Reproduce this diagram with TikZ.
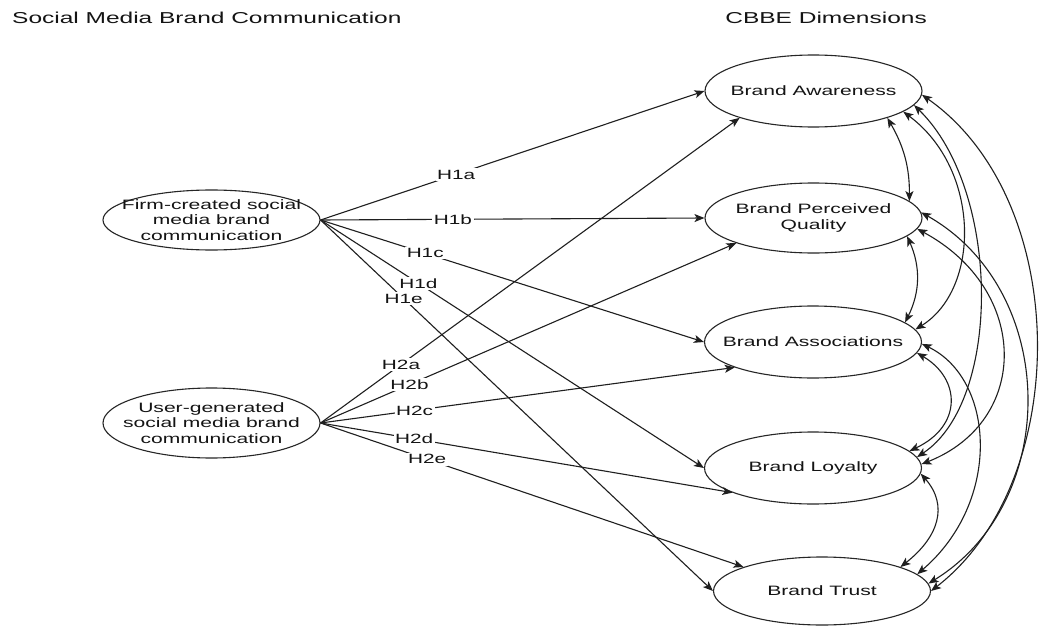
\documentclass[tikz,border=0pt]{standalone}
\usepackage{fontspec}
\setmainfont{Liberation Sans}[FakeStretch=1.55]
\usetikzlibrary{arrows.meta,shapes.geometric}
\begin{document}
\begin{tikzpicture}[x=1pt,y=-1pt,
  txt/.style={font=\fontsize{13.6}{15.5}\selectfont, text=black!92, align=center, inner sep=0pt},
  title/.style={font=\fontsize{15.8}{18}\selectfont, text=black!92, inner sep=0pt},
  oval/.style={ellipse, draw=black!85, line width=1.1pt, minimum width=217pt, minimum height=72pt, inner sep=0pt},
  lab/.style={fill=white, inner sep=1.5pt, font=\fontsize{13.4}{15}\selectfont, text=black!92},
  tip/.style={},
  conn/.style={line width=1.1pt, draw=black!88, -{Stealth[length=10pt,width=8pt,inset=2.5pt]}},
  corr/.style={line width=1.1pt, draw=black!88, {Stealth[length=10pt,width=8pt,inset=2.5pt]}-{Stealth[length=10pt,width=8pt,inset=2.5pt]}}
]
\useasboundingbox[fill=white] (0,0) rectangle (1047,626);

% titles
\node[title, anchor=base west] (t1) at (12,24) {Social Media Brand Communication};
\node[title, anchor=base east] (t2) at (927,24) {CBBE Dimensions};

% left ellipses
\node[oval, minimum height=60pt] (f) at (211.5,220) {};
\node[txt] (ft) at (f.center) {Firm-created social\\media brand\\communication};
\node[oval, minimum height=70pt] (u) at (211.5,423) {};
\node[txt] (ut) at (u.center) {User-generated\\social media brand\\communication};

% right ellipses
\node[oval] (ba) at (813.5,91) {};
\node[txt] (bat) at (ba.center) {Brand Awareness};
\node[oval, minimum height=70pt] (pq) at (813.5,218) {};
\node[txt] (pqt) at (pq.center) {Brand Perceived\\Quality};
\node[oval] (as) at (813,342) {};
\node[txt] (ast) at (as.center) {Brand Associations};
\node[oval] (bl) at (813,468) {};
\node[txt] (blt) at (bl.center) {Brand Loyalty};
\node[oval, minimum height=68pt] (bt) at (822,591) {};
\node[txt] (btt) at (bt.center) {Brand Trust};

% H1 paths
\draw[conn] (f.east) -- node[lab, pos=.353] (l1a) {H1a} (ba.180);
\draw[conn] (f.east) -- node[lab, pos=.345] (l1b) {H1b} (pq.180);
\draw[conn] (f.east) -- node[lab, pos=.273] (l1c) {H1c} (as.180);
\draw[conn] (f.east) -- node[lab, pos=.255] (l1d) {H1d} (bl.180);
\draw[conn] (f.east) -- node[lab, pos=.212] (l1e) {H1e} (bt.180);

% H2 paths
\draw[conn] (u.east) -- node[lab, pos=.192] (l2a) {H2a} (ba.200);
\draw[conn] (u.east) -- node[lab, pos=.214] (l2b) {H2b} (pq.198);
\draw[conn] (u.east) -- node[lab, pos=.227] (l2c) {H2c} (as.198);
\draw[conn] (u.east) -- node[lab, pos=.227] (l2d) {H2d} (bl.197);
\draw[conn] (u.east) -- node[lab, pos=.252] (l2e) {H2e} (bt.163);

% correlations
\draw[corr] (ba.-20) to[bend left=15] (pq.10);
\draw[corr] (ba.-13) .. controls +(78,58) and +(65,-40) .. (as.7);
\draw[corr] (ba.-8) .. controls +(87,85) and +(85,-56) .. (bl.6.6);
\draw[corr] (ba.-2) .. controls +(150,105) and +(142,-110) .. (bt.0.5);
\draw[corr] (pq.-11) to[bend left=25] (as.12);
\draw[corr] (pq.-6) .. controls +(113,61) and +(109,-43) .. (bl.2.5);
\draw[corr] (pq.3) .. controls +(138,78) and +(133,-82) .. (bt.4.8);
\draw[corr] (as.-6.5) .. controls +(44,26) and +(53,-25) .. (bl.10.7);
\draw[corr] (as.-1.5) .. controls +(73,35) and +(85,-73) .. (bt.10.8);
\draw[corr] (bl.-3) .. controls +(28,32) and +(38,-30) .. (bt.17);
\end{tikzpicture}
\end{document}
